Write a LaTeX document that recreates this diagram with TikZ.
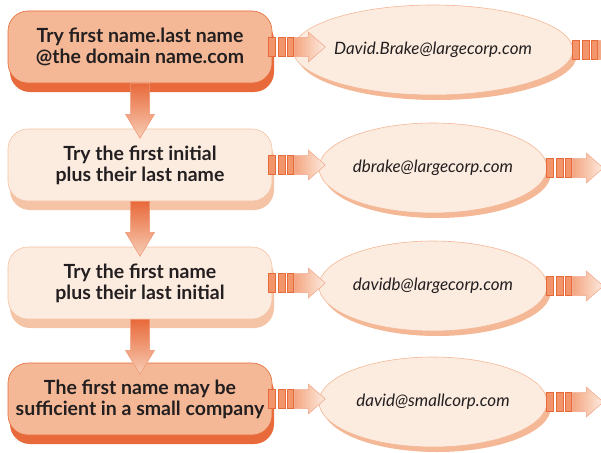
\documentclass[tikz,border=0pt]{standalone}
\usepackage{fontspec}
\setmainfont{Lato}
\usetikzlibrary{shapes.geometric,shadows,calc}
\definecolor{dk}{HTML}{E8693A}
\definecolor{md}{HTML}{F4B896}
\definecolor{lt}{HTML}{FCEBDF}
\definecolor{lb}{HTML}{F5C4A6}
\definecolor{bar}{HTML}{F2956A}
\definecolor{txt}{HTML}{231F20}
\begin{document}
\begin{tikzpicture}[x=1pt,y=-1pt,
  darkbox/.style={rectangle,rounded corners=20pt,minimum width=264pt,minimum height=72pt,
    fill=md,draw=dk,line width=0.6pt,align=center,text=txt,inner sep=2pt,
    font=\fontsize{19.5}{21}\selectfont\bfseries,
    drop shadow={shadow xshift=2pt,shadow yshift=-9pt,fill=dk,opacity=1}},
  lightbox/.style={rectangle,rounded corners=20pt,minimum width=264pt,minimum height=72pt,
    fill=lt,draw=lb,line width=0.6pt,align=center,text=txt,inner sep=2pt,
    font=\fontsize{19.5}{21}\selectfont\bfseries,
    drop shadow={shadow xshift=2pt,shadow yshift=-9pt,fill=lb,opacity=1}},
  mail/.style={ellipse,minimum width=228pt,minimum height=90pt,inner sep=0pt,
    fill=lt,draw=md,line width=0.6pt,text=txt,
    font=\fontsize{17}{18}\selectfont\itshape,
    drop shadow={shadow xshift=4pt,shadow yshift=-5pt,fill=md,opacity=1}},
  stripe/.pic={
    \foreach \a/\b in {0/7,10/17,19/25}
      \fill[bar,draw=dk,line width=0.5pt] (\a,-9.5) rectangle (\b,9.5);
    \shade[left color=bar!85,right color=lt,draw=dk!60,line width=0.5pt]
      (26,-9.5) -- (40,-9.5) -- (40,-15) -- (57,0) -- (40,15) -- (40,9.5) -- (26,9.5) -- cycle;
  },
  downarrow/.pic={
    \shade[top color=dk,bottom color=md!70,draw=dk!70,line width=0.5pt]
      (-9.5,0) -- (-9.5,31) -- (-14.5,31) -- (0,55) -- (14.5,31) -- (9.5,31) -- (9.5,0) -- cycle;
  }
]
\useasboundingbox (0,0) rectangle (601,452);
\clip (0,0) rectangle (601,452);

\node[darkbox]  (b1) at (140,47)  {Try first name.last name\\@the domain name.com};
\node[lightbox] (b2) at (140,165) {Try the first initial\\plus their last name};
\node[lightbox] (b3) at (140,283) {Try the first name\\plus their last initial};
\node[darkbox]  (b4) at (140,399) {The first name may be\\sufficient in a small company};

\node[mail] (e1) at (433,50)  {David.Brake@largecorp.com};
\node[mail] (e2) at (433,168) {dbrake@largecorp.com};
\node[mail] (e3) at (433,286) {davidb@largecorp.com};
\node[mail] (e4) at (433,402) {david@smallcorp.com};

\foreach \i in {1,2,3}
  \pic at (b\i.south) {downarrow};

\foreach \i in {1,2,3,4}{
  \pic at ([xshift=-4pt]b\i.east) {stripe};
  \pic at ([xshift=-1pt]e\i.east) {stripe};
}
\end{tikzpicture}
\end{document}
